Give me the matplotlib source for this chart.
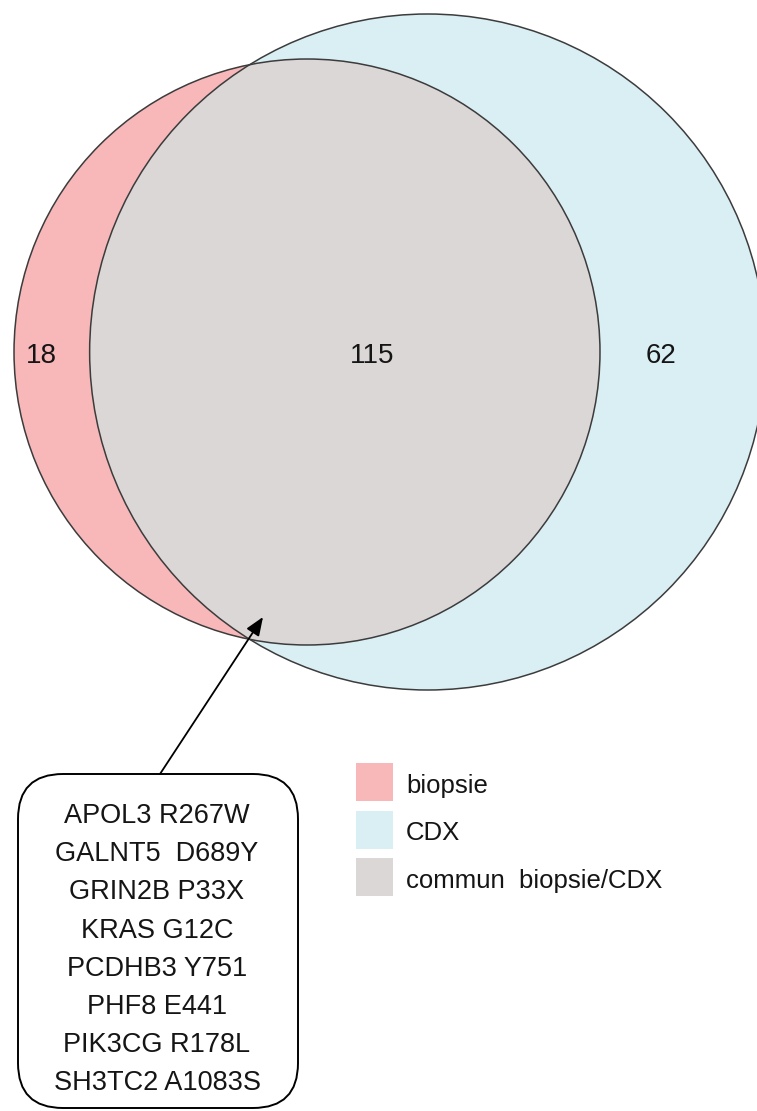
import numpy as np
import matplotlib
matplotlib.use('Agg')
import matplotlib.pyplot as plt
from matplotlib.patches import Circle, FancyBboxPatch, Rectangle

# venn counts
only_biopsie = 18
commun = 115
only_cdx = 62

legend_labels = ['biopsie', 'CDX', 'commun  biopsie/CDX']
colors = ['#F8B8BA', '#DAEFF4', '#DBD7D6']
edge = '#3c3c3c'

mutations = ['APOL3 R267W', 'GALNT5  D689Y', 'GRIN2B P33X', 'KRAS G12C',
             'PCDHB3 Y751', 'PHF8 E441', 'PIK3CG R178L', 'SH3TC2 A1083S']

FONT = ['Liberation Sans', 'DejaVu Sans']


def lens_area(r1, r2, d):
    a1 = np.arccos((d**2 + r1**2 - r2**2) / (2 * d * r1))
    a2 = np.arccos((d**2 + r2**2 - r1**2) / (2 * d * r2))
    k = np.sqrt((-d + r1 + r2) * (d + r1 - r2) * (d - r1 + r2) * (d + r1 + r2))
    return r1**2 * a1 + r2**2 * a2 - 0.5 * k


# area proportional circles
r1 = np.sqrt((only_biopsie + commun) / np.pi)
r2 = np.sqrt((only_cdx + commun) / np.pi)
lo, hi = abs(r2 - r1) + 1e-9, r1 + r2 - 1e-9
for i in range(100):
    mid = (lo + hi) / 2
    if lens_area(r1, r2, mid) > commun:
        lo = mid
    else:
        hi = mid
d = (lo + hi) / 2

scale = 45.03          # pixels per unit
cx1, cy = 307, 352     # centre of biopsie circle (pixels)
cx2 = cx1 + d * scale

fig = plt.figure(figsize=(7.57, 11.11), dpi=100)
ax = fig.add_axes([0, 0, 1, 1])
ax.set_xlim(0, 757)
ax.set_ylim(1111, 0)
ax.axis('off')

c1 = Circle((cx1, cy), r1 * scale, facecolor=colors[0], edgecolor='none')
c2 = Circle((cx2, cy), r2 * scale, facecolor=colors[1], edgecolor='none')
ax.add_patch(c2)
ax.add_patch(c1)
clip = Circle((cx1, cy), r1 * scale, transform=ax.transData)
inter = Circle((cx2, cy), r2 * scale, facecolor=colors[2], edgecolor='none')
ax.add_patch(inter)
inter.set_clip_path(clip)
for cx, r in [(cx1, r1), (cx2, r2)]:
    ax.add_patch(Circle((cx, cy), r * scale, fill=False, edgecolor=edge, lw=1.1))

# region counts
for x, v in zip([41, 372, 661], [only_biopsie, commun, only_cdx]):
    ax.text(x, 363, str(v), ha='center', va='baseline', fontsize=20, family=FONT, color='#151515')

# arrow + box of shared mutations
ax.annotate('', xy=(263, 617), xytext=(160, 774),
            arrowprops=dict(arrowstyle='-|>,head_length=0.4,head_width=0.16', color='black',
                            lw=1.3, mutation_scale=28, shrinkA=0, shrinkB=0))
box = FancyBboxPatch((18, 774), 280, 334, boxstyle='round,pad=0,rounding_size=45',
                     facecolor='white', edgecolor='black', lw=1.4)
ax.add_patch(box)
for i, m in enumerate(mutations):
    ax.text(157, 823 + i * 38.2, m, ha='center', va='baseline', fontsize=19.5,
            family=FONT, color='#151515')

# legend
for i, (lab, col) in enumerate(zip(legend_labels, colors)):
    y0 = 763 + i * 47.5
    ax.add_patch(Rectangle((356, y0), 37, 38, facecolor=col, edgecolor='none'))
    ax.text(406, y0 + 30, lab, ha='left', va='baseline', fontsize=18.5, family=FONT, color='#151515')

fig.savefig('out.png', dpi=100)
